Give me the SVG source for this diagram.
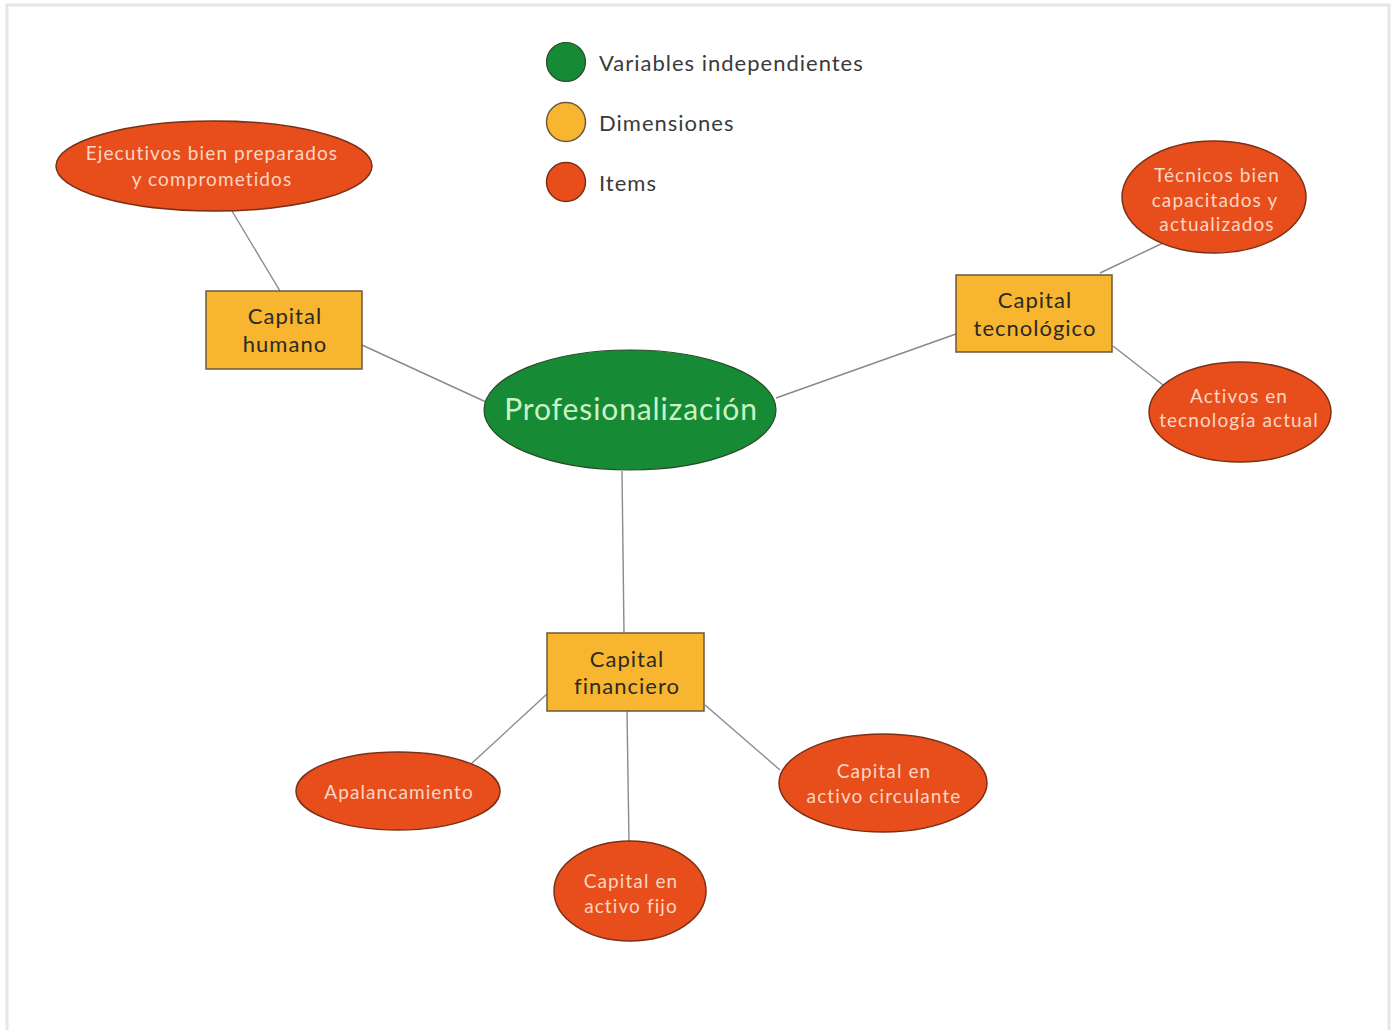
<svg xmlns="http://www.w3.org/2000/svg" width="1395" height="1030" viewBox="0 0 1395 1030">
  <style>
    text { font-family: Lato, "Open Sans", "Liberation Sans", sans-serif; text-anchor: middle; letter-spacing: 1px; }
    .frame { fill: #ffffff; stroke: #e6e6e6; stroke-width: 3; }
    .var { fill: #178a36; stroke: #2a4a2a; stroke-width: 1.2; }
    .dim { fill: #f8b530; stroke: #6a5a40; stroke-width: 1.5; }
    .item { fill: #e84e1b; stroke: #7a3018; stroke-width: 1.5; }
    .var-t { fill: #c9f3c4; font-size: 30px; letter-spacing: 0.9px; }
    .dim-t { fill: #2b2a22; font-size: 22px; }
    .item-t { fill: #fbd6c4; font-size: 19px; letter-spacing: 1.1px; }
    .legend-t { fill: #3a3a3a; font-size: 22px; text-anchor: start; }
    .link { stroke: #8a8a8a; stroke-width: 1.4; fill: none; }
  </style>

  <rect class="frame" x="7" y="5" width="1382" height="1030"/>

  <!-- legend -->
  <g id="legend">
    <circle class="var" cx="566" cy="62" r="19.5"/>
    <text class="legend-t" x="599" y="71">Variables independientes</text>
    <circle class="dim" cx="566" cy="122" r="19.5"/>
    <text class="legend-t" x="599" y="131">Dimensiones</text>
    <circle class="item" cx="566" cy="182" r="19.5"/>
    <text class="legend-t" x="599" y="191">Items</text>
  </g>

  <!-- connectors -->
  <g id="connectors">
    <line class="link" x1="232" y1="211" x2="280" y2="291"/>
    <line class="link" x1="362" y1="345" x2="486" y2="402"/>
    <line class="link" x1="776" y1="398" x2="956" y2="334"/>
    <line class="link" x1="1100" y1="273" x2="1163" y2="243"/>
    <line class="link" x1="1113" y1="346" x2="1163" y2="385"/>
    <line class="link" x1="622" y1="471" x2="624" y2="633"/>
    <line class="link" x1="547" y1="694" x2="471" y2="764"/>
    <line class="link" x1="627" y1="711" x2="629" y2="842"/>
    <line class="link" x1="705" y1="705" x2="780" y2="770"/>
  </g>

  <!-- central variable -->
  <g id="profesionalizacion">
    <ellipse class="var" cx="630" cy="410" rx="146" ry="60"/>
    <text class="var-t" x="631" y="420">Profesionalización</text>
  </g>

  <!-- dimensions -->
  <g id="capital-humano">
    <rect class="dim" x="206" y="291" width="156" height="78"/>
    <text class="dim-t" x="285" y="324">Capital</text>
    <text class="dim-t" x="285" y="352">humano</text>
  </g>
  <g id="capital-tecnologico">
    <rect class="dim" x="956" y="275" width="156" height="77"/>
    <text class="dim-t" x="1035" y="308">Capital</text>
    <text class="dim-t" x="1035" y="336">tecnológico</text>
  </g>
  <g id="capital-financiero">
    <rect class="dim" x="547" y="633" width="157" height="78"/>
    <text class="dim-t" x="627" y="667">Capital</text>
    <text class="dim-t" x="627" y="694">financiero</text>
  </g>

  <!-- items -->
  <g id="ejecutivos">
    <ellipse class="item" cx="214" cy="166" rx="158" ry="45"/>
    <text class="item-t" x="212" y="160">Ejecutivos bien preparados</text>
    <text class="item-t" x="212" y="186">y comprometidos</text>
  </g>
  <g id="tecnicos">
    <ellipse class="item" cx="1214" cy="197" rx="92" ry="56"/>
    <text class="item-t" x="1217" y="182">Técnicos bien</text>
    <text class="item-t" x="1215" y="207">capacitados y</text>
    <text class="item-t" x="1217" y="231">actualizados</text>
  </g>
  <g id="activos-tecnologia">
    <ellipse class="item" cx="1240" cy="412" rx="91" ry="50"/>
    <text class="item-t" x="1239" y="403">Activos en</text>
    <text class="item-t" x="1239" y="427">tecnología actual</text>
  </g>
  <g id="apalancamiento">
    <ellipse class="item" cx="398" cy="791" rx="102" ry="39"/>
    <text class="item-t" x="399" y="799">Apalancamiento</text>
  </g>
  <g id="activo-fijo">
    <ellipse class="item" cx="630" cy="891" rx="76" ry="50"/>
    <text class="item-t" x="631" y="888">Capital en</text>
    <text class="item-t" x="631" y="913">activo fijo</text>
  </g>
  <g id="activo-circulante">
    <ellipse class="item" cx="883" cy="783" rx="104" ry="49"/>
    <text class="item-t" x="884" y="778">Capital en</text>
    <text class="item-t" x="884" y="803">activo circulante</text>
  </g>
</svg>
